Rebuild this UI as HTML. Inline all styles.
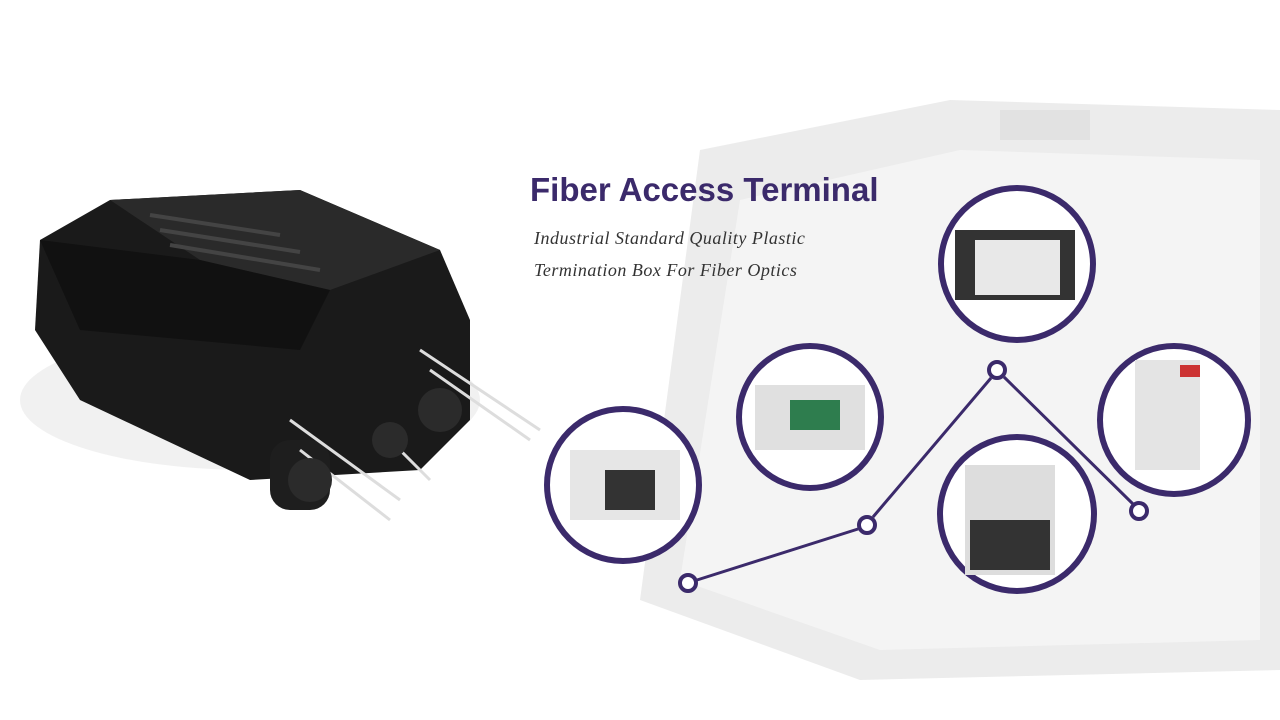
<!DOCTYPE html>
<html><head><meta charset="utf-8"><style>
body{margin:0;width:1280px;height:720px;overflow:hidden;background:#fff;position:relative;font-family:"Liberation Sans",sans-serif}
.t{position:absolute;left:530px;top:171px;font-size:33px;font-weight:bold;color:#3b2a6b}
.s{position:absolute;left:534px;font-family:"Liberation Serif",serif;font-style:italic;font-size:18px;color:#333;letter-spacing:0.5px}
</style></head><body>
<svg width="1280" height="720" style="position:absolute;left:0;top:0">
<path d="M700 150 L950 100 L1280 110 L1280 670 L860 680 L640 600 Z" fill="#ececec"/>
<path d="M740 200 L960 150 L1260 160 L1260 640 L880 650 L680 580 Z" fill="#f4f4f4"/>
<rect x="1000" y="110" width="90" height="30" fill="#e2e2e2"/>
<ellipse cx="250" cy="400" rx="230" ry="70" fill="#e8e8e8" opacity="0.6"/>
<path d="M40 240 L110 200 L300 190 L440 250 L470 320 L470 420 L420 470 L250 480 L80 400 L35 330 Z" fill="#1a1a1a"/>
<path d="M110 200 L300 190 L440 250 L330 290 L200 260 Z" fill="#2a2a2a"/>
<path d="M40 240 L200 260 L330 290 L300 350 L80 330 Z" fill="#111"/>
<g stroke="#444" stroke-width="4">
<line x1="150" y1="215" x2="280" y2="235"/><line x1="160" y1="230" x2="300" y2="252"/><line x1="170" y1="245" x2="320" y2="270"/>
</g>
<g fill="#1e1e1e"><rect x="270" y="440" width="60" height="70" rx="20"/></g>
<g stroke="#ddd" stroke-width="3" fill="none">
<path d="M290 420 L400 500"/><path d="M300 450 L390 520"/><path d="M420 350 L540 430"/><path d="M430 370 L530 440"/><path d="M380 430 L430 480"/>
</g>
<g fill="#2b2b2b"><circle cx="310" cy="480" r="22"/><circle cx="440" cy="410" r="22"/><circle cx="390" cy="440" r="18"/></g>
<g stroke="#3b2a6b" stroke-width="3" fill="none">
<line x1="697" y1="580" x2="858" y2="529"/>
<line x1="873" y1="517" x2="991" y2="378"/>
<line x1="1004" y1="377" x2="1133" y2="504"/>
</g>
<g fill="#fff" stroke="#3b2a6b" stroke-width="4">
<circle cx="688" cy="583" r="8"/><circle cx="867" cy="525" r="8"/><circle cx="997" cy="370" r="8"/><circle cx="1139" cy="511" r="8"/>
</g>
<g stroke="#3b2a6b" stroke-width="6" fill="#fff">
<circle cx="623" cy="485" r="76"/>
<circle cx="810" cy="417" r="71"/>
<circle cx="1017" cy="264" r="76"/>
<circle cx="1174" cy="420" r="74"/>
<circle cx="1017" cy="514" r="77"/>
</g>
<rect x="570" y="450" width="110" height="70" fill="#e6e6e6"/><rect x="605" y="470" width="50" height="40" fill="#333"/>
<rect x="755" y="385" width="110" height="65" fill="#e0e0e0"/><rect x="790" y="400" width="50" height="30" fill="#2e7d4e"/>
<rect x="955" y="230" width="120" height="70" fill="#333"/><rect x="975" y="240" width="85" height="55" fill="#e8e8e8"/>
<rect x="1135" y="360" width="65" height="110" fill="#e4e4e4"/><rect x="1180" y="365" width="20" height="12" fill="#c33"/>
<rect x="965" y="465" width="90" height="110" fill="#ddd"/><rect x="970" y="520" width="80" height="50" fill="#333"/>
</svg>
<div class="t">Fiber Access Terminal</div>
<div class="s" style="top:228px">Industrial Standard Quality Plastic</div>
<div class="s" style="top:260px">Termination Box For Fiber Optics</div>
</body></html>
